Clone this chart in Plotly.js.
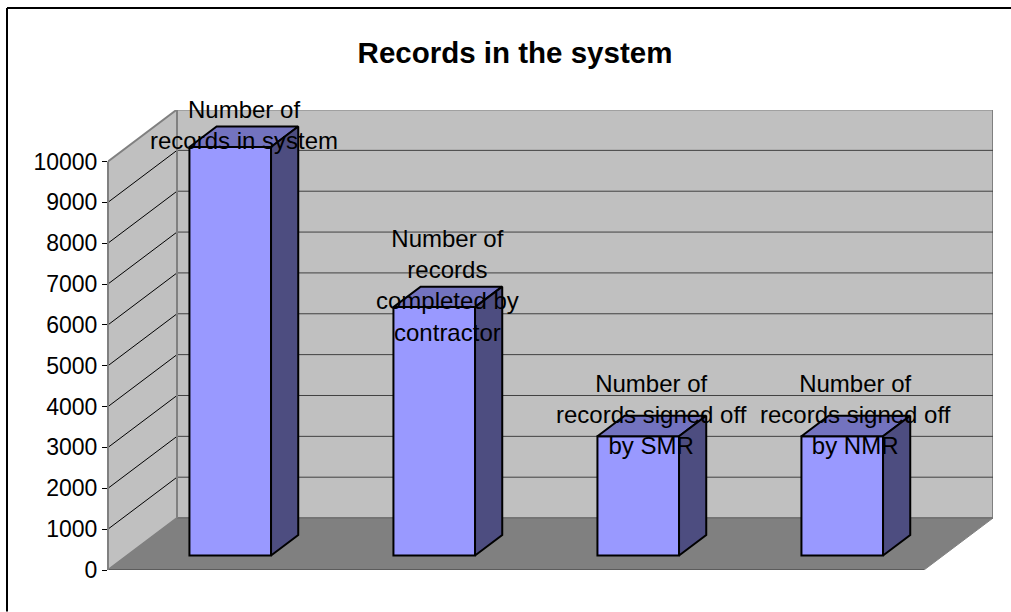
<!DOCTYPE html>
<html>
<head>
<meta charset="utf-8">
<script src="https://cdn.plot.ly/plotly-3.0.1.min.js"></script>
<style>html,body{margin:0;padding:0;background:#fff}#c{width:1011px;height:612px}</style>
</head>
<body>
<div id="c"></div>
<script>
var categories = ["Number of records in system", "Number of records completed by contractor", "Number of records signed off by SMR", "Number of records signed off by NMR"];
var wrappedLabels = ["Number of<br>records in system", "Number of<br>records<br>completed by<br>contractor", "Number of<br>records signed off<br>by SMR", "Number of<br>records signed off<br>by NMR"];
var recordCounts = [10000, 6080, 2920, 2920];
var yTicks = [0, 1000, 2000, 3000, 4000, 5000, 6000, 7000, 8000, 9000, 10000];

var W = 1011, H = 612, L = 108, R = 993, T = 110, B = 570.5;
var pxPerCat = 204, pxPerVal = 409 / 10000;
var yMax = (B - T) / pxPerVal, xMax = (R - L) / pxPerCat;
var dX = 69 / pxPerCat, dY = 52 / pxPerVal;
var near = 14.5 / 52, far = 35 / 52, barW = 0.4, nCat = categories.length;
var FONT = '"Liberation Sans", Arial, sans-serif';

var shapes = [];
function poly(pts, fill, color, width) {
  shapes.push({type: 'path', layer: 'below', xref: 'x', yref: 'y',
    path: 'M' + pts.map(function (p) { return p[0] + ',' + p[1]; }).join('L') + 'Z',
    fillcolor: fill, line: {color: color, width: width}});
}
function seg(x0, y0, x1, y1, color, width) {
  shapes.push({type: 'line', layer: 'below', xref: 'x', yref: 'y', x0: x0, y0: y0, x1: x1, y1: y1,
    line: {color: color, width: width}});
}
var top10 = yTicks[yTicks.length - 1];
// back wall, side wall, floor
poly([[dX, dY], [xMax, dY], [xMax, dY + top10], [dX, dY + top10]], '#C0C0C0', '#808080', 2);
poly([[0, 0], [dX, dY], [dX, dY + top10], [0, top10]], '#C0C0C0', '#808080', 2);
poly([[0, 0], [nCat, 0], [xMax, dY], [dX, dY]], '#808080', '#808080', 1);
yTicks.slice(1, -1).forEach(function (v) {
  seg(0, v, dX, v + dY, '#000000', 1);
  seg(dX, v + dY, xMax, v + dY, '#404040', 1);
});
seg(0, 0, nCat, 0, '#505050', 1.5);
seg(dX, dY, xMax, dY, '#707070', 1.5);
seg(dX, dY, dX, dY + top10, '#808080', 2);

// paper-referenced: y axis line and the outer frame (top and left only)
function paperLine(px0, py0, px1, py1, color, width) {
  shapes.push({type: 'line', layer: 'above', xref: 'paper', yref: 'paper',
    x0: (px0 - L) / (R - L), x1: (px1 - L) / (R - L),
    y0: (B - py0) / (B - T), y1: (B - py1) / (B - T),
    line: {color: color, width: width}});
}
paperLine(108, 570.5, 108, 161.5, '#808080', 2);
paperLine(7, 8, 1011, 8, '#000000', 2);
paperLine(7, 8, 7, 612, '#000000', 2);

var nudge = 1 / pxPerCat;
var barCentres = categories.map(function (c, i) { return i + 0.5 + near * dX + nudge; });
var barBase = near * dY;
var depthXStep = (far - near) * dX, depthYStep = (far - near) * dY;

var topX = [], topY = [], sideX = [], sideY = [];
recordCounts.forEach(function (v, i) {
  var l = barCentres[i] - barW / 2, r = barCentres[i] + barW / 2, b = barBase, t = barBase + v;
  topX.push(l, r, r + depthXStep, l + depthXStep, l, null);
  topY.push(t, t, t + depthYStep, t + depthYStep, t, null);
  sideX.push(r, r + depthXStep, r + depthXStep, r, r, null);
  sideY.push(b, b + depthYStep, t + depthYStep, t, b, null);
});

var traces = [
  {type: 'bar', x: barCentres, y: recordCounts, base: barBase, width: barW, text: categories, textposition: 'none',
   marker: {color: '#9999FF', line: {color: '#000000', width: 2}}, hoverinfo: 'text', showlegend: false},
  {type: 'scatter', mode: 'lines', x: topX, y: topY, fill: 'toself', fillcolor: '#7373BF',
   line: {color: '#000000', width: 2}, hoverinfo: 'skip', showlegend: false},
  {type: 'scatter', mode: 'lines', x: sideX, y: sideY, fill: 'toself', fillcolor: '#4D4D80',
   line: {color: '#000000', width: 2}, hoverinfo: 'skip', showlegend: false}
];

var annotations = wrappedLabels.map(function (t, i) {
  return {text: t, xref: 'x', yref: 'y', x: barCentres[i] + (near + far) / 2 * dX - near * dX,
    y: barBase + recordCounts[i], yanchor: 'middle', xanchor: 'center', yshift: 22, showarrow: false,
    align: 'center', font: {family: FONT, size: 24, color: '#000000'}};
});

var layout = {
  width: W, height: H, paper_bgcolor: '#FFFFFF', plot_bgcolor: 'rgba(0,0,0,0)',
  margin: {l: L, r: W - R, t: T, b: H - B, pad: 0, autoexpand: false},
  font: {family: FONT, color: '#000000'},
  title: {text: '<b>Records in the system</b>', font: {family: FONT, size: 29.5, color: '#000000'},
    x: 515 / W, xref: 'container', xanchor: 'center', y: 1 - 53 / H, yref: 'container', yanchor: 'middle'},
  bargap: 0, showlegend: false,
  xaxis: {range: [0, xMax], visible: false, fixedrange: true},
  yaxis: {range: [0, yMax], tickmode: 'array', tickvals: yTicks, ticktext: yTicks.map(String),
    showgrid: false, zeroline: false, showline: false, ticks: 'outside', ticklen: 5, tickwidth: 1, tickcolor: '#000000',
    tickfont: {family: FONT, size: 23, color: '#000000'}, ticklabelstandoff: 0, fixedrange: true},
  shapes: shapes, annotations: annotations
};
Plotly.newPlot('c', traces, layout, {displayModeBar: false, staticPlot: true});
</script>
</body>
</html>
